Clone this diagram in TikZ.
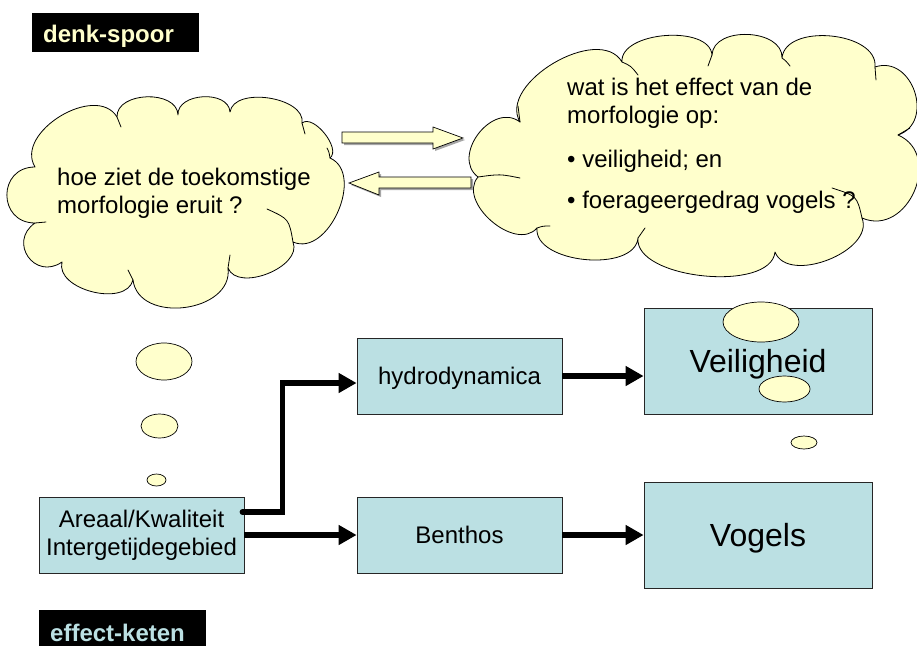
\documentclass[tikz,border=0pt]{standalone}
\usepackage{fontspec}
\setmainfont{Liberation Sans}
\usetikzlibrary{calc,arrows.meta}

\definecolor{cream}{HTML}{FFFFCC}
\definecolor{paleblue}{RGB}{187,224,227}

\tikzset{
  % one bulging arc of a cloud outline, #1 = bulge relative to chord
  lobe/.style={to path={.. controls ($(\tikztostart)!#1!90:(\tikztotarget)$)
                        and ($(\tikztotarget)!#1!-90:(\tikztostart)$) .. (\tikztotarget)}},
  lobe/.default=0.4,
  cloudbody/.style={fill=cream, draw=black, line width=0.8pt, line join=round},
  stub/.style={draw=black, line width=0.8pt, line cap=round},
  bubble/.style={fill=cream, draw=black, line width=0.7pt},
  blockarrow/.style={fill=cream, draw=black, line width=0.7pt, line join=miter},
  arrowshadow/.style={fill=black!35, draw=none},
  box/.style={draw=black!85, fill=paleblue, line width=0.8pt, inner sep=0pt,
              font=\fontsize{24}{28}\selectfont, align=center},
  oneline/.style={text height=17.3pt, text depth=0pt},
  bigtext/.style={inner sep=0pt, font=\fontsize{32}{36}\selectfont, text height=23pt, text depth=0pt},
  cloudtext/.style={anchor=base west, inner sep=0pt, font=\fontsize{24}{28}\selectfont},
  tag/.style={fill=black, draw=none, anchor=north west, inner sep=0pt},
  tagtext/.style={anchor=base west, inner sep=0pt, font=\fontsize{24}{28}\selectfont\bfseries},
  conn/.style={line width=5.5pt, -{Triangle[length=18pt,width=19pt]}},
}

\begin{document}
\begin{tikzpicture}[x=1pt, y=-1pt]
\useasboundingbox (0,0) rectangle (917,645);

% ---- section tags ----
\node[tag, minimum width=167pt, minimum height=39pt] (denkbox) at (32,13) {};
\node[tagtext, text=cream] (denktext) at (43,42) {denk-spoor};

\node[tag, minimum width=167pt, minimum height=40pt] (ketenbox) at (39,610) {};
\node[tagtext, text=paleblue] (ketentext) at (50,641) {effect-keten};

% ---- left thought cloud ----
\coordinate (la) at (35,167);
\coordinate (lb) at (117,117);
\coordinate (lc) at (178,115);
\coordinate (ld) at (230,112);
\coordinate (le) at (302,123);
\coordinate (lf) at (330,158);
\coordinate (lg) at (293,242);
\coordinate (lh) at (228,268);
\coordinate (li) at (133,280);
\coordinate (lj) at (62,262);
\coordinate (lk) at (35,223);
\draw[cloudbody] (la) to[lobe=0.42] (lb) to[lobe=0.42] (lc) to[lobe=0.43] (ld)
  to[lobe=0.36] (le) to[lobe=0.33] (lf) to[lobe=0.42] (lg) to[lobe=0.38] (lh)
  to[lobe=0.47] (li) to[lobe=0.39] (lj) to[lobe=0.7] (lk) to[lobe=0.67] (la) -- cycle;
\draw[stub] (lk) -- (46,222);
\draw[stub] (le) .. controls (304,128) .. (305,134);
\draw[stub] (lf) .. controls (329,152) .. (327,148);
\draw[stub] (lg) .. controls (289,219) .. (267,209);
\draw[stub] (lh) .. controls (229,262) .. (230,255);
\draw[stub] (li) .. controls (131,275) .. (128,270);
\draw[stub] (lb) .. controls (119,122) .. (121,127);

\node[cloudtext] (lt1) at (57,185) {hoe ziet de toekomstige};
\node[cloudtext] (lt2) at (57,213) {morfologie eruit ?};

% ---- right thought cloud ----
\coordinate (ra) at (520,122);
\coordinate (rb) at (622,62);
\coordinate (rc) at (712,55);
\coordinate (rd) at (782,58);
\coordinate (re) at (875,67);
\coordinate (rf) at (898,135);
\coordinate (rg) at (862,218);
\coordinate (rh) at (775,252);
\coordinate (ri) at (638,238);
\coordinate (rj) at (537,228);
\coordinate (rk) at (478,177);
\draw[cloudbody] (ra) to[lobe=0.38] (rb) to[lobe=0.34] (rc) to[lobe=0.42] (rd)
  to[lobe=0.38] (re) to[lobe=0.55] (rf) to[lobe=0.55] (rg) to[lobe=0.38] (rh)
  to[lobe=0.3] (ri) to[lobe=0.35] (rj) to[lobe=0.42] (rk) to[lobe=0.5] (ra) -- cycle;
\draw[stub] (rk) .. controls (500,174) .. (520,178);
\draw[stub] (ra) .. controls (519,114) .. (518,106);
\draw[stub] (rb) .. controls (631,66) .. (638,75);
\draw[stub] (rc) .. controls (710,60) .. (708,66);
\draw[stub] (rd) .. controls (786,61) .. (790,66);
\draw[stub] (re) .. controls (876,73) .. (876,80);
\draw[stub] (rf) .. controls (904,131) .. (910,128);
\draw[stub] (rg) .. controls (857,196) .. (832,188);
\draw[stub] (ri) .. controls (641,233) .. (645,228);
\draw[stub] (rj) .. controls (543,226) .. (550,226);

\node[cloudtext] (rt1) at (567,95) {wat is het effect van de};
\node[cloudtext] (rt2) at (567,123) {morfologie op:};
\node[cloudtext] (rt3) at (567,167) {\textbullet{} veiligheid; en};
\node[cloudtext] (rt4) at (567,208) {\textbullet{} foerageergedrag vogels ?};

% ---- block arrows between the clouds ----
\fill[arrowshadow] (344,134) -- (435,134) -- (435,129) -- (465,140) -- (435,151)
  -- (435,145) -- (344,145) -- cycle;
\draw[blockarrow] (342,132) -- (433,132) -- (433,127) -- (463,138) -- (433,149)
  -- (433,143) -- (342,143) -- cycle;
\fill[arrowshadow] (473,179) -- (381,179) -- (381,174) -- (351,185) -- (381,197)
  -- (381,190) -- (473,190) -- cycle;
\draw[blockarrow] (471,177) -- (379,177) -- (379,172) -- (349,183) -- (379,195)
  -- (379,188) -- (471,188) -- cycle;

% ---- effect chain ----
\node[box, minimum width=205pt, minimum height=76pt] (areaal) at (141.5,535)
  {Areaal/Kwaliteit\\Intergetijdegebied};
\node[box, oneline, minimum width=205pt, minimum height=76pt] (hydro) at (459.5,376) {hydrodynamica};
\node[box, oneline, minimum width=205pt, minimum height=76pt] (benthos) at (459.5,535) {Benthos};
\node[box, minimum width=228pt, minimum height=106pt] (veil) at (758,361) {};
\node[box, minimum width=228pt, minimum height=106pt] (vogels) at (758,535) {};

% thought bubbles rising from the chain
\draw[bubble] (164,361.5) ellipse [x radius=28pt, y radius=18.5pt];
\draw[bubble] (159.5,426) ellipse [x radius=18.5pt, y radius=12pt];
\draw[bubble] (156.5,480) ellipse [x radius=9.5pt, y radius=6pt];
\draw[bubble] (761,322) ellipse [x radius=38pt, y radius=20pt];
\draw[bubble] (784.5,389) ellipse [x radius=25.5pt, y radius=13pt];
\draw[bubble] (804,442.5) ellipse [x radius=13pt, y radius=6.5pt];

\node[bigtext] (veiltext) at (veil) {Veiligheid};
\node[bigtext] (vogeltext) at (vogels) {Vogels};

% connectors
\coordinate (hydro-in) at ([yshift=-7pt]hydro.west);
\draw[conn, line cap=round] ([xshift=-2pt,yshift=23pt]areaal.east) -- ++(40,0) |- (hydro-in);
\draw[conn] (areaal.east) -- (benthos.west);
\draw[conn] (hydro.east) -- (hydro.east -| veil.west);
\draw[conn] (benthos.east) -- (vogels.west);
\end{tikzpicture}
\end{document}
